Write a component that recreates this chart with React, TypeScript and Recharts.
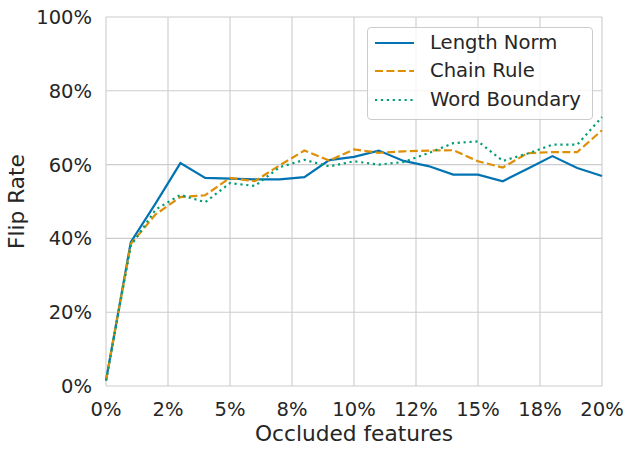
import React from "react";
import { LineChart, Line, XAxis, YAxis, CartesianGrid, Legend, Label } from "recharts";

// ---- data ----
const occluded = [0, 1, 2, 3, 4, 5, 6, 7, 8, 9, 10, 11, 12, 13, 14, 15, 16, 17, 18, 19, 20];
const lengthNorm = [1.5, 39.0, 49.5, 60.4, 56.4, 56.2, 56.0, 56.0, 56.6, 61.2, 62.1, 63.8, 61.0, 59.6, 57.3, 57.3, 55.5, 58.9, 62.3, 59.1, 56.9];
const chainRule = [1.5, 38.5, 46.5, 51.2, 51.7, 56.4, 55.5, 59.8, 63.8, 61.1, 64.1, 63.2, 63.6, 63.8, 63.9, 60.9, 59.2, 63.1, 63.4, 63.4, 69.3];
const wordBoundary = [1.5, 38.0, 47.8, 51.8, 49.8, 55.0, 54.2, 59.3, 61.3, 59.5, 60.9, 60.0, 60.7, 63.1, 65.8, 66.3, 61.0, 63.0, 65.4, 65.4, 72.9];

const xTicks = [0, 2.5, 5, 7.5, 10, 12.5, 15, 17.5, 20];
const xTickLabels = ["0%", "2%", "5%", "8%", "10%", "12%", "15%", "18%", "20%"];
const yTicks = [0, 20, 40, 60, 80, 100];

const seriesNames = ["Length Norm", "Chain Rule", "Word Boundary"];
const seriesKeys = ["lengthNorm", "chainRule", "wordBoundary"];
const seriesColors = ["#0173B2", "#DE8F05", "#029E73"];
const seriesDash = [undefined, "8 3.4", "2.2 3.7"];

const data = occluded.map((x, i) => ({
  x,
  lengthNorm: lengthNorm[i],
  chainRule: chainRule[i],
  wordBoundary: wordBoundary[i],
}));

const FONT = "'DejaVu Sans', sans-serif";
const TEXT = "#262626";
const GRID = "#cccccc";

const renderLegend = () => (
  <div
    style={{
      boxSizing: "border-box",
      width: 226,
      height: 92.5,
      border: `1px solid ${GRID}`,
      borderRadius: 4,
      background: "rgba(255,255,255,0.8)",
      paddingTop: 0.5,
      paddingLeft: 7,
      fontFamily: FONT,
      fontSize: 19.6,
      color: TEXT,
    }}
  >
    {seriesNames.map((name, i) => (
      <div key={name} style={{ display: "flex", alignItems: "center", height: 28.6, lineHeight: "28.6px" }}>
        <svg width={39} height={6} style={{ display: "block", marginRight: 16 }}>
          <line x1={0} y1={3} x2={39} y2={3} stroke={seriesColors[i]} strokeWidth={2.2} strokeDasharray={seriesDash[i]} />
        </svg>
        <span>{name}</span>
      </div>
    ))}
  </div>
);

export default function App() {
  return (
    <div style={{ position: "absolute", left: 0, top: 0, width: 633, height: 454, background: "#fff" }}>
      <LineChart width={633} height={454} data={data} margin={{ top: 17, right: 31, bottom: 0, left: 0 }}>
        <CartesianGrid stroke={GRID} strokeWidth={1.1} />
        <XAxis
          dataKey="x"
          type="number"
          domain={[0, 20]}
          ticks={xTicks}
          interval={0}
          tickFormatter={(v: number) => xTickLabels[xTicks.indexOf(v)]}
          tickLine={false}
          axisLine={false}
          tickSize={0}
          tickMargin={16}
          height={68}
          tick={{ fill: TEXT, fontSize: 19.5, fontFamily: FONT }}
        >
          <Label
            content={(props: any) => {
              const vb = props.viewBox || {};
              return (
                <text
                  x={vb.x + vb.width / 2}
                  y={vb.y + 55}
                  textAnchor="middle"
                  fill={TEXT}
                  fontSize={21.7}
                  fontFamily={FONT}
                >
                  Occluded features
                </text>
              );
            }}
          />
        </XAxis>
        <YAxis
          type="number"
          domain={[0, 100]}
          ticks={yTicks}
          interval={0}
          tickFormatter={(v: number) => `${v}%`}
          tickLine={false}
          axisLine={false}
          tickSize={0}
          tickMargin={14}
          width={106}
          tick={{ fill: TEXT, fontSize: 19.5, fontFamily: FONT }}
        >
          <Label
            content={(props: any) => {
              const vb = props.viewBox || {};
              const cx = vb.x + 23.5;
              const cy = vb.y + vb.height / 2;
              return (
                <text
                  x={cx}
                  y={cy}
                  transform={`rotate(-90 ${cx} ${cy})`}
                  textAnchor="middle"
                  fill={TEXT}
                  fontSize={21.7}
                  fontFamily={FONT}
                >
                  Flip Rate
                </text>
              );
            }}
          />
        </YAxis>
        {seriesKeys.map((k, i) => (
          <Line
            key={k}
            type="linear"
            dataKey={k}
            name={seriesNames[i]}
            stroke={seriesColors[i]}
            strokeWidth={2.2}
            strokeDasharray={seriesDash[i]}
            dot={false}
            activeDot={false}
            isAnimationActive={false}
          />
        ))}
        <Legend
          layout="vertical"
          align="center"
          verticalAlign="middle"
          content={renderLegend}
          wrapperStyle={{ left: 367, top: 27, width: 226, height: 92.5 }}
        />
      </LineChart>
    </div>
  );
}
